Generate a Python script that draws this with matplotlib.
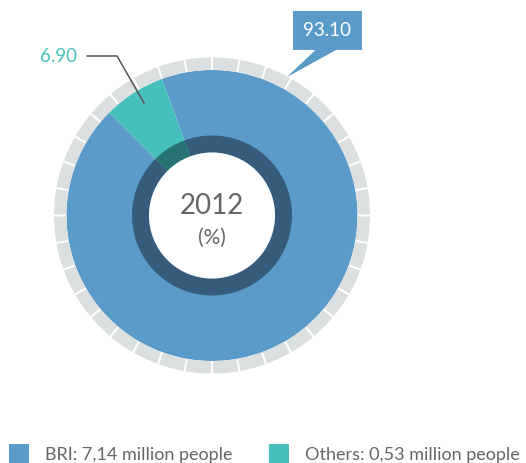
import matplotlib
matplotlib.use("Agg")
import matplotlib.pyplot as plt
from matplotlib.patches import Wedge, Circle, Rectangle, Polygon
import numpy as np

# ---- data ----
categories = ["BRI", "Others"]
shares = [93.10, 6.90]
legend_labels = ["BRI: 7,14 million people", "Others: 0,53 million people"]
year_label = "2012"
unit_label = "(%)"

colors = ["#5b9bc9", "#47c0bd"]
dark_colors = ["#375b7b", "#277371"]
grey = "#dcdfe0"
text_grey = "#666666"

plt.rcParams['font.family'] = ['Lato', 'DejaVu Sans']

W, H = 526, 464
fig = plt.figure(figsize=(W / 100, H / 100), dpi=100)
ax = fig.add_axes([0, 0, 1, 1])

def Y(py):
    return H - py

cx, cy = 212, Y(216.5)
R_outer = 145.5

# main pie
ax.pie(shares, colors=colors, startangle=135, counterclock=True,
       center=(cx, cy), radius=R_outer, frame=True,
       wedgeprops=dict(linewidth=0))
# dark inner ring
ax.pie(shares, colors=dark_colors, startangle=135, counterclock=True,
       center=(cx, cy), radius=80, frame=True,
       wedgeprops=dict(width=17, linewidth=0))
ax.add_patch(Circle((cx, cy), 63, facecolor="white", edgecolor="none", zorder=5))

# grey segmented outer ring
nseg = 36
for k in range(nseg):
    th = 90 - k * 360 / nseg
    ax.add_patch(Wedge((cx, cy), 158, th - 360 / nseg + 0.4, th - 0.4,
                       width=12.5, facecolor=grey, edgecolor="none"))

# centre text
ax.text(cx, Y(206), year_label, ha="center", va="center", fontsize=20,
        color=text_grey, zorder=6)
ax.text(cx, Y(237.5), unit_label, ha="center", va="center", fontsize=15,
        color=text_grey, zorder=6)

# label for Others
ax.text(77, Y(57), f"{shares[1]:.2f}", ha="right", va="center", fontsize=13.5,
        color=colors[1])
ax.plot([87, 117, 144], [Y(57), Y(57), Y(104)], color="#555555", lw=1.1,
        solid_joinstyle="miter")

# callout for BRI
ax.add_patch(Rectangle((293, Y(51)), 69, 39, facecolor=colors[0], edgecolor="none"))
ax.add_patch(Polygon([(316, Y(50.5)), (337, Y(50.5)), (287, Y(78))], closed=True,
                     facecolor=colors[0], edgecolor="none"))
ax.text(327.5, Y(30), f"{shares[0]:.2f}", ha="center", va="center", fontsize=13.5,
        color="white")

# legend
sq_x = [9, 269]
tx_x = [45, 305]
for i in range(2):
    ax.add_patch(Rectangle((sq_x[i], Y(465)), 20, 20, facecolor=colors[i],
                           edgecolor="none"))
    ax.text(tx_x[i], Y(460.5), legend_labels[i], ha="left", va="baseline",
            fontsize=13, color=text_grey)

ax.set_xlim(0, W)
ax.set_ylim(0, H)
ax.set_aspect("auto")
ax.axis("off")

fig.savefig("out.png", dpi=100)
